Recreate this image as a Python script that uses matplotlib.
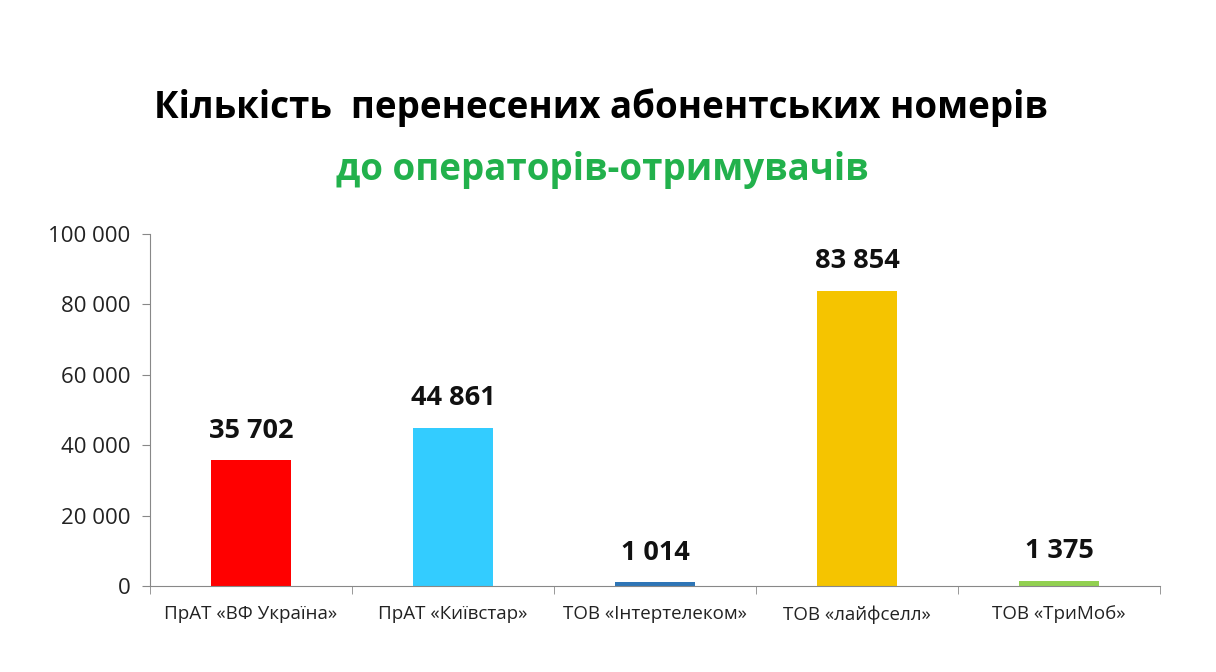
import matplotlib
matplotlib.use("Agg")
import matplotlib.pyplot as plt
import numpy as np

categories = ["ПрАТ «ВФ Україна»", "ПрАТ «Київстар»", "ТОВ «Інтертелеком»", "ТОВ «лайфселл»", "ТОВ «ТриМоб»"]
values = [35702, 44861, 1014, 83854, 1375]
colors = ["#FF0000", "#33CCFF", "#2E75B6", "#F5C400", "#92D050"]
yticks = [0, 20000, 40000, 60000, 80000, 100000]
ytick_labels = ["0", "20 000", "40 000", "60 000", "80 000", "100 000"]
title1 = "Кількість  перенесених абонентських номерів"
title2 = "до операторів-отримувачів"

plt.rcParams["font.family"] = ["Open Sans", "DejaVu Sans"]

fig = plt.figure(figsize=(12.16, 6.72), dpi=100)
ax = fig.add_axes([150/1216, 1-586/672, (1160-150)/1216, (586-234)/672])

x = np.arange(len(categories))
ax.bar(x, values, width=0.4, color=colors)
ax.set_xlim(-0.5, len(categories)-0.5)
ax.set_ylim(0, 100000)
ax.set_yticks(yticks)
ax.set_yticklabels(ytick_labels, fontsize=16, color="#222222")
ax.set_xticks(x)
ax.set_xticklabels(categories, fontsize=13.5, color="#222222")
ax.tick_params(axis="x", length=0, pad=14)
ax.set_xticks(np.arange(len(categories)+1)-0.5, minor=True)
ax.tick_params(axis="x", which="minor", length=6, color="#888888")
ax.tick_params(axis="y", length=6, color="#888888", pad=8)
for s in ["top", "right"]:
    ax.spines[s].set_visible(False)
for s in ["left", "bottom"]:
    ax.spines[s].set_color("#888888")

for xi, v in zip(x, values):
    ax.annotate(f"{v:,}".replace(",", " "), (xi, v), xytext=(0, 12), textcoords="offset points",
                ha="center", va="bottom", fontsize=19.5, fontweight="bold", color="#111111")

fig.text(601/1216, 1-108/672, title1, ha="center", va="center", fontsize=26.5, fontweight="bold", color="black")
fig.text(602/1216, 1-170/672, title2, ha="center", va="center", fontsize=26.5, fontweight="bold", color="#22B14C")

fig.savefig("out.png", dpi=100)
